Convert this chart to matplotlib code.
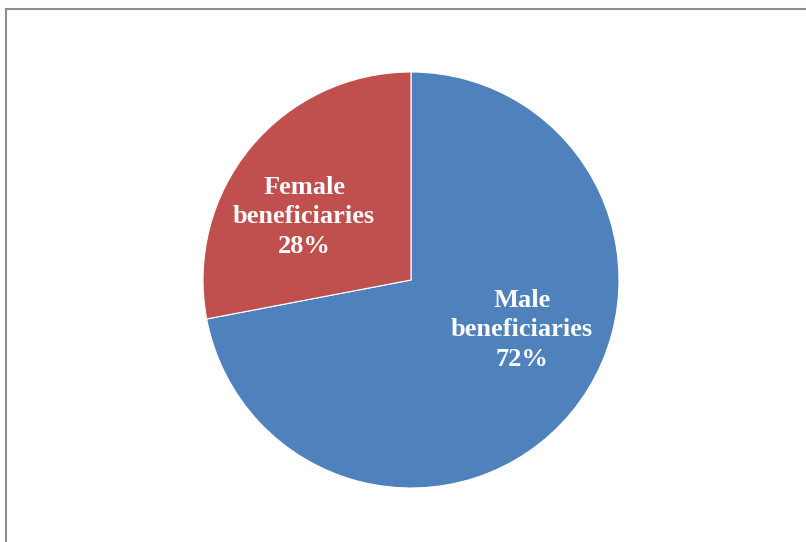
import matplotlib
matplotlib.use("Agg")
import matplotlib.pyplot as plt
from matplotlib.lines import Line2D

# data
labels = ["Male\nbeneficiaries", "Female\nbeneficiaries"]
shares = [72, 28]
colors = ["#4F81BD", "#C0504D"]
# label anchor points (pie data coords), Excel-style placement
label_pos = [(0.534, -0.24), (-0.514, 0.303)]

W, H = 806, 542
fig = plt.figure(figsize=(W / 100, H / 100), dpi=100)

# outer chart border (left + top only visible)
fig.add_artist(Line2D([5.5 / W, 5.5 / W], [0, 1 - 9 / H], color="#8c8c8c", lw=1.5, transform=fig.transFigure))
fig.add_artist(Line2D([5.5 / W, 805 / W], [1 - 9 / H, 1 - 9 / H], color="#8c8c8c", lw=1.5, transform=fig.transFigure))

cx, cy, r = 411, 280, 208
ax = fig.add_axes([(cx - r) / W, (H - cy - r) / H, 2 * r / W, 2 * r / H])
ax.pie(shares, colors=colors, startangle=90, counterclock=False, radius=1,
       wedgeprops=dict(edgecolor="white", linewidth=0.8))
ax.set_xlim(-1, 1)
ax.set_ylim(-1, 1)
ax.set_aspect("equal")
ax.axis("off")

for lab, v, (x, y) in zip(labels, shares, label_pos):
    ax.text(x, y, f"{lab}\n{v}%", ha="center", va="center", color="white",
            fontsize=19, fontweight="bold", family="Liberation Serif", linespacing=1.38)

fig.savefig("out.png", dpi=100)
